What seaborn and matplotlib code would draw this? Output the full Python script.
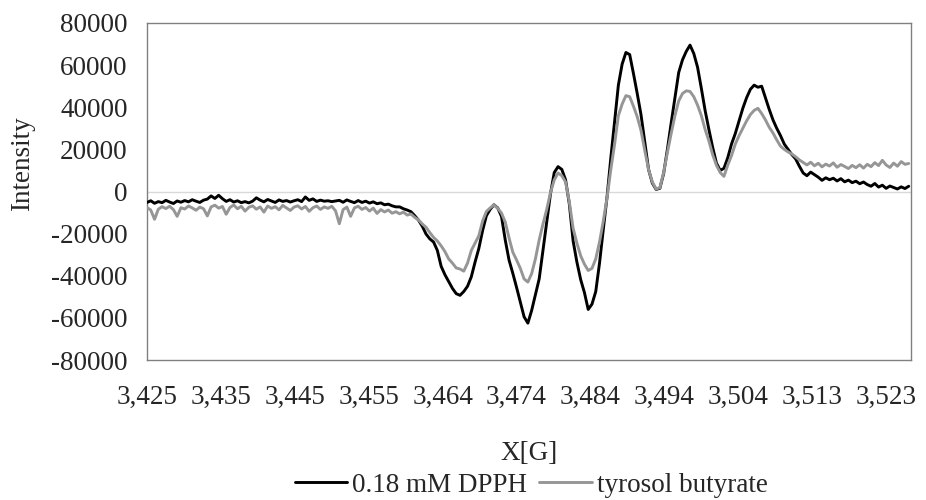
import numpy as np
import pandas as pd
import matplotlib
matplotlib.use("Agg")
import matplotlib.pyplot as plt
import seaborn as sns

# field labels shown under the axis (Excel category labels)
tick_labels = ["3,425", "3,435", "3,445", "3,455", "3,464", "3,474",
               "3,484", "3,494", "3,504", "3,513", "3,523"]

# intensities, one value every 0.5 G from 3425 G
dpph_flat = [
    -5200, -4400, -5600, -4800, -5300, -4200, -5000, -5700, -4500, -5100,
    -4300, -4900, -3900, -4600, -5200, -4100, -3600, -2100, -3300, -1800,
    -3400, -4700, -3900, -5000, -4400, -5300, -4800, -5400, -4600, -3000,
    -4100, -4900, -3800, -4500, -5200, -4000, -4700, -4300, -5000, -4400,
    -3900, -4800, -2600, -4200, -3500, -4700, -4100, -4600, -4400, -4800,
    -4500, -4200, -5100, -4000, -4700, -5300, -4300, -5200, -4600, -5500,
    -4900, -5800, -5400, -6300, -6000, -6800, -7300,
]
dpph_signal = [
    -7300, -8200, -8800, -9600, -11500, -13600, -16500, -20200, -22500, -24000,
    -28000, -35500, -39500, -42800, -46000, -48500, -49300, -47500, -45000, -40500,
    -33500, -27000, -18500, -11500, -8500, -6300, -7800, -11800, -23000, -32500,
    -38800, -45500, -52500, -59500, -62500, -56500, -49000, -41500, -28000, -14800,
    -1000, 9000, 11800, 10500, 5500, -6000, -23500, -33500, -41800, -48000,
    -56000, -53500, -47500, -34000, -18000, -2500, 16000, 33000, 50500, 60500,
    66000, 65000, 56000, 46500, 36500, 23500, 10500, 4000, 1000, 1500,
    8500, 20000, 32500, 44500, 56500, 62500, 66500, 69500, 65500, 59000,
    49000, 38500, 29500, 21000, 13500, 10000, 11000, 16000, 22500, 27500,
    33500, 39500, 44500, 48500, 50500, 49500, 50000, 44500, 39000, 34000,
    30000, 26500, 22500, 20000, 17500, 15500, 12000, 8800,
]
dpph_tail = [
    7500, 9200, 8000, 6800, 5300, 6500, 5600, 6300, 5000, 6100,
    4600, 5400, 4200, 4900, 3700, 4500, 3300, 2500, 3800, 2100,
    3000, 1500, 2600, 1900, 1200, 2200, 1400, 2500,
]

tyrosol_flat = [
    -7600, -8800, -13200, -8400, -7200, -8100, -7000, -8600, -11800, -7700,
    -8300, -6900, -7800, -8900, -7400, -8200, -11600, -7300, -6500, -7900,
    -7100, -10800, -7600, -6400, -8200, -7000, -9300, -7500, -6800, -8400,
    -7300, -9800, -6900, -8000, -7200, -8700, -6600, -7800, -9000, -7400,
    -6800, -8300, -7100, -9400, -7700, -6900, -8500, -7300, -8000, -7000,
    -9200, -15300, -8600, -7400, -11800, -7800, -7000, -8500, -7600, -9300,
    -7900, -10400, -8600, -9700, -8800, -10300, -9600,
]
tyrosol_signal = [
    -10600, -9800, -11200, -10700, -12300, -13500, -15400, -17000, -19500, -21800,
    -23500, -25800, -28500, -32000, -34000, -36300, -36800, -37800, -34000, -28000,
    -24500, -21000, -14000, -9500, -7800, -6300, -8000, -10200, -14500, -22000,
    -28800, -32500, -36500, -41500, -43000, -39000, -32000, -23000, -15500, -8500,
    -500, 5500, 8800, 7500, 4500, -5000, -17500, -24500, -30500, -34500,
    -37500, -36500, -32000, -24000, -14000, -3000, 10500, 22500, 36000, 41500,
    45500, 45000, 40500, 35500, 29000, 19500, 10500, 4500, 1200, 1800,
    9000, 18500, 27500, 36000, 43000, 46500, 47800, 47500, 45000, 41000,
    36000, 29500, 24000, 17500, 12500, 9000, 7200, 12500, 17000, 22500,
    26500, 30000, 33500, 36500, 38500, 39500, 37000, 34000, 30500, 27800,
    24500, 21500, 20000, 18800, 17800, 16500, 15000, 13800,
]
tyrosol_tail = [
    12600, 13900, 12200, 13400, 11700, 13000, 12100, 13600, 11500, 12800,
    11900, 10900, 12400, 11300, 12700, 11100, 12900, 11800, 13700, 12300,
    14800, 12600, 11400, 13500, 12000, 14200, 12900, 13300,
]

dpph = dpph_flat + dpph_signal + dpph_tail
tyrosol = tyrosol_flat + tyrosol_signal + tyrosol_tail

# magnetic field sweep (G)
field = np.linspace(3425, 3526, len(dpph))

df = pd.DataFrame({"X[G]": field, "0.18 mM DPPH": dpph, "tyrosol butyrate": tyrosol})
long_df = df.melt(id_vars="X[G]", var_name="series", value_name="Intensity")

sns.set_style("white")
plt.rcParams["font.family"] = ["Liberation Serif", "DejaVu Serif"]
plt.rcParams["font.size"] = 19.5

fig = plt.figure(figsize=(9.26, 5.0), dpi=100)
ax = fig.add_axes([147 / 926, 140 / 500, 764 / 926, 337 / 500])

ax.axhline(0, color="#d9d9d9", linewidth=1.0, zorder=1)

sns.lineplot(
    data=long_df, x="X[G]", y="Intensity", hue="series",
    palette={"0.18 mM DPPH": "#000000", "tyrosol butyrate": "#969696"},
    linewidth=2.1, ax=ax, zorder=3,
)

ax.set_xlim(3425, 3526.3)
ax.set_ylim(-80000, 80000)
ax.set_xticks(3425 + 9.8 * np.arange(len(tick_labels)))
ax.set_xticklabels(tick_labels)
ax.set_yticks(range(-80000, 80001, 20000))
ax.set_yticklabels([str(v) for v in range(-80000, 80001, 20000)])
ax.tick_params(axis="both", length=0, labelsize=19.5)
ax.tick_params(axis="x", pad=18)
ax.tick_params(axis="y", pad=14)

for s in ax.spines.values():
    s.set_color("#808080")
    s.set_linewidth(1.0)

ax.set_xlabel("X[G]", fontsize=19.5)
ax.xaxis.set_label_coords(0.5, -0.24)
ax.set_ylabel("Intensity", fontsize=19.5)
ax.yaxis.set_label_coords(-0.147, 0.583)

handles, labels = ax.get_legend_handles_labels()
ax.get_legend().remove()
fig.legend(handles, labels, loc="center", bbox_to_anchor=(531 / 926, 0.03),
           ncol=2, frameon=False, fontsize=19.5, handlelength=1.93,
           handletextpad=0.18, columnspacing=0.47, borderpad=0, borderaxespad=0)

fig.savefig("out.png", dpi=100)
